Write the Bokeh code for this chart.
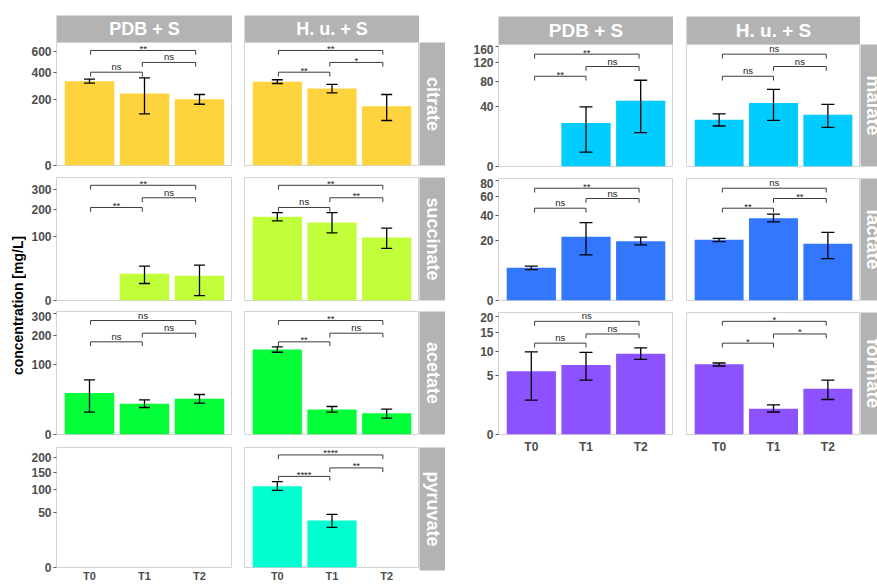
import math
from bokeh.plotting import figure
from bokeh.layouts import row, column
from bokeh.models import (Range1d, FixedTicker, CustomJSTickFormatter, ColumnDataSource,
                          Whisker, TeeHead, Spacer)
from bokeh.embed import file_html
from bokeh.resources import INLINE
from bokeh.core.properties import value

# ------------------------------------------------------------------ data
categories = ["T0", "T1", "T2"]
treatments = ["PDB + S", "H. u. + S"]
comparisons = [("T0", "T1"), ("T1", "T2"), ("T0", "T2")]
y_title = "concentration [mg/L]"

# citrate
citrate_ticks = [0, 200, 400, 600]
citrate_limit = 702
citrate_pdb_mean = [330, 241, 204]
citrate_pdb_low = [315, 124, 174]
citrate_pdb_high = [346, 357, 234]
citrate_hu_mean = [325, 275, 163]
citrate_hu_low = [312, 245, 94]
citrate_hu_high = [341, 305, 234]
citrate_bracket_y = [404, 493, 614]
citrate_pdb_sig = ["ns", "ns", "**"]
citrate_hu_sig = ["**", "*", "**"]

# succinate
succinate_ticks = [0, 100, 200, 300]
succinate_limit = 367
succinate_pdb_mean = [None, 17.3, 14.8]
succinate_pdb_low = [None, 7.0, 0.6]
succinate_pdb_high = [None, 28.5, 30.2]
succinate_hu_mean = [170, 148, 96]
succinate_hu_low = [154, 111, 66]
succinate_hu_high = [187, 187, 127]
succinate_bracket_y = [210, 256, 322]
succinate_pdb_sig = ["**", "ns", "**"]
succinate_hu_sig = ["ns", "**", "**"]

# acetate
acetate_ticks = [0, 100, 200, 300]
acetate_limit = 311
acetate_pdb_mean = [35.6, 19.3, 26.1]
acetate_pdb_low = [10.2, 15.0, 20.2]
acetate_pdb_high = [61.4, 24.6, 32.9]
acetate_hu_mean = [148.7, 12.9, 9.3]
acetate_hu_low = [139, 10.2, 5.5]
acetate_hu_high = [158, 16.1, 13.2]
acetate_bracket_y = [176.5, 211, 267]
acetate_pdb_sig = ["ns", "ns", "ns"]
acetate_hu_sig = ["**", "ns", "**"]

# pyruvate
pyruvate_ticks = [0, 50, 100, 150, 200]
pyruvate_limit = 239
pyruvate_pdb_mean = [None, None, None]
pyruvate_pdb_low = [None, None, None]
pyruvate_pdb_high = [None, None, None]
pyruvate_hu_mean = [109.8, 36.5, None]
pyruvate_hu_low = [98.8, 26.6, None]
pyruvate_hu_high = [122.5, 46.7, None]
pyruvate_bracket_y = [137.8, 164.6, 210.3]
pyruvate_pdb_sig = []
pyruvate_hu_sig = ["****", "**", "****"]

# malate
malate_ticks = [0, 40, 80, 120, 160]
malate_limit = 165
malate_pdb_mean = [None, 21.0, 48.1]
malate_pdb_low = [None, 2.3, 12.7]
malate_pdb_high = [None, 39.3, 82.5]
malate_hu_mean = [24.3, 44.8, 29.8]
malate_hu_low = [18.2, 23.6, 17.0]
malate_hu_high = [30.6, 66.1, 42.9]
malate_bracket_y = [90.3, 110.8, 139.9]
malate_pdb_sig = ["**", "ns", "**"]
malate_hu_sig = ["ns", "ns", "ns"]

# lactate
lactate_ticks = [0, 20, 40, 60, 80]
lactate_limit = 82.3
lactate_pdb_mean = [5.9, 22.4, 19.4]
lactate_pdb_low = [5.3, 11.5, 17.1]
lactate_pdb_high = [6.5, 33.6, 22.2]
lactate_hu_mean = [20.4, 37.4, 17.8]
lactate_hu_low = [19.2, 34.2, 9.7]
lactate_hu_high = [21.4, 41.2, 25.6]
lactate_bracket_y = [47.1, 57.5, 69.7]
lactate_pdb_sig = ["ns", "ns", "**"]
lactate_hu_sig = ["**", "**", "ns"]

# formate
formate_ticks = [0, 5, 10, 15, 20]
formate_limit = 21.5
formate_pdb_mean = [5.78, 6.98, 9.41]
formate_pdb_low = [1.71, 4.26, 8.16]
formate_pdb_high = [9.88, 9.74, 10.85]
formate_hu_mean = [7.12, 0.96, 3.01]
formate_hu_low = [6.78, 0.73, 1.77]
formate_hu_high = [7.38, 1.26, 4.26]
formate_bracket_y = [12.05, 14.6, 18.5]
formate_pdb_sig = ["ns", "ns", "ns"]
formate_hu_sig = ["*", "*", "*"]

# ------------------------------------------------------------------ specs
left_rows = [
    dict(name="citrate", color="#FFD33D", ticks=citrate_ticks, limit=citrate_limit,
         bracket_y=citrate_bracket_y,
         series=[(citrate_pdb_mean, citrate_pdb_low, citrate_pdb_high, citrate_pdb_sig),
                 (citrate_hu_mean, citrate_hu_low, citrate_hu_high, citrate_hu_sig)]),
    dict(name="succinate", color="#C1FF3B", ticks=succinate_ticks, limit=succinate_limit,
         bracket_y=succinate_bracket_y,
         series=[(succinate_pdb_mean, succinate_pdb_low, succinate_pdb_high, succinate_pdb_sig),
                 (succinate_hu_mean, succinate_hu_low, succinate_hu_high, succinate_hu_sig)]),
    dict(name="acetate", color="#03FF3A", ticks=acetate_ticks, limit=acetate_limit,
         bracket_y=acetate_bracket_y,
         series=[(acetate_pdb_mean, acetate_pdb_low, acetate_pdb_high, acetate_pdb_sig),
                 (acetate_hu_mean, acetate_hu_low, acetate_hu_high, acetate_hu_sig)]),
    dict(name="pyruvate", color="#00FFD0", ticks=pyruvate_ticks, limit=pyruvate_limit,
         bracket_y=pyruvate_bracket_y,
         series=[(pyruvate_pdb_mean, pyruvate_pdb_low, pyruvate_pdb_high, pyruvate_pdb_sig),
                 (pyruvate_hu_mean, pyruvate_hu_low, pyruvate_hu_high, pyruvate_hu_sig)]),
]
right_rows = [
    dict(name="malate", color="#00CCFF", ticks=malate_ticks, limit=malate_limit,
         bracket_y=malate_bracket_y,
         series=[(malate_pdb_mean, malate_pdb_low, malate_pdb_high, malate_pdb_sig),
                 (malate_hu_mean, malate_hu_low, malate_hu_high, malate_hu_sig)]),
    dict(name="lactate", color="#3377FF", ticks=lactate_ticks, limit=lactate_limit,
         bracket_y=lactate_bracket_y,
         series=[(lactate_pdb_mean, lactate_pdb_low, lactate_pdb_high, lactate_pdb_sig),
                 (lactate_hu_mean, lactate_hu_low, lactate_hu_high, lactate_hu_sig)]),
    dict(name="formate", color="#8C52FF", ticks=formate_ticks, limit=formate_limit,
         bracket_y=formate_bracket_y,
         series=[(formate_pdb_mean, formate_pdb_low, formate_pdb_high, formate_pdb_sig),
                 (formate_hu_mean, formate_hu_low, formate_hu_high, formate_hu_sig)]),
]

# ------------------------------------------------------------------ geometry / style
FONT_NAME = "Liberation Sans"
FONT = value(FONT_NAME)
STRIP_FILL = "#B3B3B3"
AXIS_TXT = "#4D4D4D"
SIG_FS = 9.5

LEFT = dict(col_border=[30, 12], col_frame=[176, 175], strip_w=26, strip_text_x=13,
            top_border=15, strip_h=27, frame_h=123, bottoms=[12, 11, 13, 14],
            x_standoff=2, x_font="11px", y_font="12px", strip_font="18px",
            bx=[1.02, 1.96, 2.93], cap=11)
RIGHT = dict(col_border=[53, 13], col_frame=[175, 174], strip_w=17, strip_text_x=13,
             top_border=16, strip_h=28, frame_h=122, bottoms=[12, 12, 22],
             x_standoff=5, x_font="12px", y_font="12px", strip_font="19px",
             bx=[1.06, 2.0, 2.97], cap=13)


def strip_fig(text, width, height, left, top, bottom, frame_w, frame_h, vertical, font, tx=None):
    p = figure(width=width, height=height, x_range=Range1d(0, frame_w), y_range=Range1d(0, frame_h),
               x_axis_type=None, y_axis_type=None, toolbar_location=None, output_backend="svg",
               min_border_left=left, min_border_right=0, min_border_top=top, min_border_bottom=bottom,
               background_fill_color=STRIP_FILL, border_fill_color="white", outline_line_color=None)
    cx = tx if tx is not None else frame_w / 2
    p.text(x=[cx], y=[frame_h / 2], text=[text], angle=(-math.pi / 2 if vertical else 0),
           text_align="center", text_baseline="middle", text_color="white",
           text_font_style="bold", text_font_size=font, text_font=FONT)
    return p


def make_facet(spec, t, G, r):
    n = len(G["bottoms"])
    last = r == n - 1
    mean, low, high, sig = spec["series"][t]
    bl = G["col_border"][t]
    fw = G["col_frame"][t]
    bb = G["bottoms"][r]
    fh = G["frame_h"]
    top_sq = math.sqrt(spec["limit"])
    ppu = fh / top_sq  # pixels per sqrt-unit
    p = figure(width=bl + fw, height=fh + bb, x_range=Range1d(0.4, 3.6),
               y_range=Range1d(0, top_sq), toolbar_location=None, output_backend="svg",
               min_border_left=bl, min_border_right=0, min_border_top=0, min_border_bottom=bb,
               background_fill_color="white", border_fill_color="white",
               outline_line_color="#D3D3D3", outline_line_width=1)
    p.xgrid.visible = False
    p.ygrid.visible = False

    idx = [i for i, m in enumerate(mean) if m is not None]
    xs = [i + 1 for i in idx]
    if idx:
        p.vbar(x=xs, bottom=0, top=[math.sqrt(mean[i]) for i in idx], width=0.9,
               fill_color=spec["color"], line_color=None)
        src = ColumnDataSource(dict(x=xs,
                                    lower=[math.sqrt(low[i]) for i in idx],
                                    upper=[math.sqrt(high[i]) for i in idx]))

        def head():
            return TeeHead(size=G["cap"], line_color="black", line_width=1.3)
        p.add_layout(Whisker(source=src, base="x", lower="lower", upper="upper",
                             line_color="black", line_width=1.3,
                             lower_head=head(), upper_head=head(), level="overlay"))

    if sig:
        tip = 4.3 / ppu
        mx, my, tx, ty = [], [], [], []
        for (a, b), yv, lab in zip(comparisons, spec["bracket_y"], sig):
            i, j = categories.index(a), categories.index(b)
            x0, x1 = G["bx"][i], G["bx"][j]
            y = math.sqrt(yv)
            mx.append([x0, x0, x1, x1])
            my.append([y - tip, y, y, y - tip])
            tx.append((x0 + x1) / 2)
            # text box bottom; asterisks sit high in the box, so drop them a little
            if "*" in lab:
                ty.append(y - 3.5 / ppu)
            else:
                ty.append(y)
        p.multi_line(xs=mx, ys=my, line_color="#3A3A3A", line_width=1)
        p.text(x=tx, y=ty, text=list(sig), text_align="center", text_baseline="bottom",
               text_font_size=f"{SIG_FS}px", text_color="#222222", text_font=FONT)

    if t == 0:
        ax = p.yaxis[0]
        ax.ticker = FixedTicker(ticks=[math.sqrt(v) for v in spec["ticks"]])
        ax.formatter = CustomJSTickFormatter(code="return String(Math.round(tick * tick));")
        ax.axis_line_color = None
        ax.major_tick_line_color = "#555555"
        ax.major_tick_out = 3
        ax.major_tick_in = 0
        ax.minor_tick_line_color = None
        ax.major_label_standoff = 2
        ax.major_label_text_font = FONT_NAME
        ax.major_label_text_font_style = "bold"
        ax.major_label_text_font_size = G["y_font"]
        ax.major_label_text_color = AXIS_TXT
    else:
        p.yaxis.visible = False

    if last:
        ax = p.xaxis[0]
        ax.ticker = FixedTicker(ticks=[1, 2, 3])
        ax.formatter = CustomJSTickFormatter(args=dict(labels=categories),
                                             code="return labels[Math.round(tick) - 1];")
        ax.axis_line_color = None
        ax.major_tick_line_color = None
        ax.major_tick_out = 0
        ax.major_tick_in = 0
        ax.minor_tick_line_color = None
        ax.major_label_standoff = G["x_standoff"]
        ax.major_label_text_font = FONT_NAME
        ax.major_label_text_font_style = "bold"
        ax.major_label_text_font_size = G["x_font"]
        ax.major_label_text_color = AXIS_TXT
    else:
        p.xaxis.visible = False
    return p


def build_block(rows_specs, G):
    cols = []
    for t in range(2):
        items = [strip_fig(treatments[t], G["col_border"][t] + G["col_frame"][t],
                           G["top_border"] + G["strip_h"], G["col_border"][t], G["top_border"], 0,
                           G["col_frame"][t], G["strip_h"], False, G["strip_font"])]
        for r, spec in enumerate(rows_specs):
            items.append(make_facet(spec, t, G, r))
        cols.append(column(*items))
    strips = [Spacer(width=G["strip_w"], height=G["top_border"] + G["strip_h"])]
    for r, spec in enumerate(rows_specs):
        bottom = G["bottoms"][r]
        strips.append(strip_fig(spec["name"], G["strip_w"], G["frame_h"] + bottom, 0, 0, bottom,
                                G["strip_w"], G["frame_h"], True, G["strip_font"],
                                tx=G["strip_text_x"]))
    cols.append(column(*strips))
    return cols


# y-axis title
TOTAL_H = 584
ylab = figure(width=26, height=TOTAL_H, x_range=Range1d(0, 26), y_range=Range1d(0, TOTAL_H),
              x_axis_type=None, y_axis_type=None, toolbar_location=None, output_backend="svg",
              min_border_left=0, min_border_right=0, min_border_top=0, min_border_bottom=0,
              outline_line_color=None, background_fill_color="white", border_fill_color="white")
ylab.text(x=[17], y=[TOTAL_H - 305], text=[y_title], angle=math.pi / 2, text_align="center",
          text_baseline="middle", text_font_style="bold", text_font_size="14px",
          text_color="black", text_font=FONT)

left_cols = build_block(left_rows, LEFT)
right_cols = build_block(right_rows, RIGHT)

root = row(ylab, *left_cols, *right_cols)

open("out.html", "w").write(file_html(root, INLINE))
